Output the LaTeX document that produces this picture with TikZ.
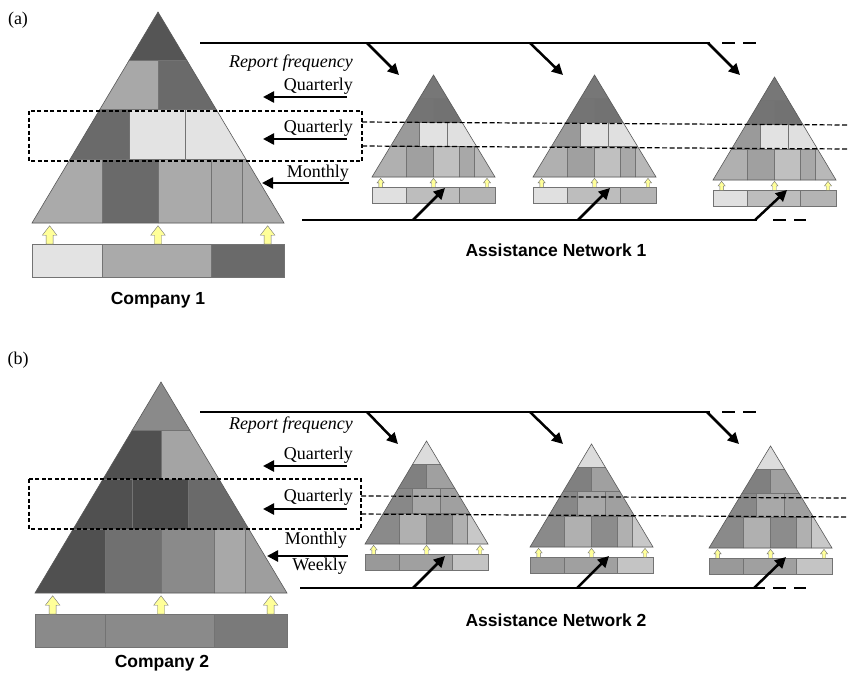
\documentclass[tikz,border=0pt]{standalone}
\usepackage{fontspec}
\setmainfont{Liberation Serif}
\setsansfont{Liberation Sans}
\usetikzlibrary{arrows.meta}

% cell colours: 11 layer cells + 3 bar cells
\definecolor{pa1}{HTML}{555555}\definecolor{pa2}{HTML}{A8A8A8}\definecolor{pa3}{HTML}{6A6A6A}
\definecolor{pa4}{HTML}{6A6A6A}\definecolor{pa5}{HTML}{E3E3E3}\definecolor{pa6}{HTML}{E3E3E3}
\definecolor{pa7}{HTML}{AAAAAA}\definecolor{pa8}{HTML}{6A6A6A}\definecolor{pa9}{HTML}{AAAAAA}
\definecolor{pa10}{HTML}{A8A8A8}\definecolor{pa11}{HTML}{AAAAAA}
\definecolor{pa12}{HTML}{E3E3E3}\definecolor{pa13}{HTML}{AAAAAA}\definecolor{pa14}{HTML}{6A6A6A}
\definecolor{sa1}{HTML}{777777}\definecolor{sa2}{HTML}{747474}\definecolor{sa3}{HTML}{727272}
\definecolor{sa4}{HTML}{9A9A9A}\definecolor{sa5}{HTML}{E2E2E2}\definecolor{sa6}{HTML}{E0E0E0}
\definecolor{sa7}{HTML}{B0B0B0}\definecolor{sa8}{HTML}{A0A0A0}\definecolor{sa9}{HTML}{C0C0C0}
\definecolor{sa10}{HTML}{A8A8A8}\definecolor{sa11}{HTML}{B8B8B8}
\definecolor{sa12}{HTML}{E0E0E0}\definecolor{sa13}{HTML}{BDBDBD}\definecolor{sa14}{HTML}{B4B4B4}
\definecolor{pb1}{HTML}{8A8A8A}\definecolor{pb2}{HTML}{505050}\definecolor{pb3}{HTML}{A4A4A4}
\definecolor{pb4}{HTML}{505050}\definecolor{pb5}{HTML}{4B4B4B}\definecolor{pb6}{HTML}{6A6A6A}
\definecolor{pb7}{HTML}{505050}\definecolor{pb8}{HTML}{707070}\definecolor{pb9}{HTML}{8A8A8A}
\definecolor{pb10}{HTML}{A8A8A8}\definecolor{pb11}{HTML}{9E9E9E}
\definecolor{pb12}{HTML}{8A8A8A}\definecolor{pb13}{HTML}{8A8A8A}\definecolor{pb14}{HTML}{7A7A7A}
\definecolor{sb1}{HTML}{DCDCDC}\definecolor{sb2}{HTML}{808080}\definecolor{sb3}{HTML}{A0A0A0}
\definecolor{sb4}{HTML}{888888}\definecolor{sb5}{HTML}{A8A8A8}\definecolor{sb6}{HTML}{A0A0A0}
\definecolor{sb7}{HTML}{8A8A8A}\definecolor{sb8}{HTML}{B0B0B0}\definecolor{sb9}{HTML}{8C8C8C}
\definecolor{sb10}{HTML}{B0B0B0}\definecolor{sb11}{HTML}{C8C8C8}
\definecolor{sb12}{HTML}{999999}\definecolor{sb13}{HTML}{A0A0A0}\definecolor{sb14}{HTML}{C4C4C4}
\definecolor{feedyellow}{HTML}{FFFF99}

% #1 colour prefix, #2 left x, #3 apex y, #4 base width, #5 height
\newcommand{\pyramid}[5]{%
  \begin{scope}[shift={(#2,#3)}, xscale=#4, yscale=#5]
    \begin{scope}
      \clip (0,1) -- (.5,0) -- (1,1) -- cycle;
      \foreach \xa/\xb/\ya/\yb/\k in {0/1/0/.23/1, 0/.5/.23/.46/2, .5/1/.23/.46/3,
          0/.385/.46/.7/4, .385/.61/.46/.7/5, .61/1/.46/.7/6,
          0/.28/.7/1/7, .28/.5/.7/1/8, .5/.71/.7/1/9, .71/.835/.7/1/10, .835/1/.7/1/11}
        \filldraw[cell, fill=#1\k] (\xa,\ya) rectangle (\xb,\yb);
    \end{scope}
    \draw[outline] (0,1) -- (.5,0) -- (1,1) -- cycle;
    \foreach \xa/\xb/\k in {0/.28/12, .28/.71/13, .71/1/14}
      \filldraw[cell, fill=#1\k] (\xa,1.1) rectangle (\xb,1.255);
    \foreach \x in {.07,.5,.935}
      \filldraw[feed] (\x-.014,1.1) -- (\x-.014,1.058) -- (\x-.029,1.058) -- (\x,1.013)
        -- (\x+.029,1.058) -- (\x+.014,1.058) -- (\x+.014,1.1) -- cycle;
  \end{scope}}

\begin{document}
\begin{tikzpicture}[
    x=1pt, y=-1pt,
    cell/.style={draw=black!55, line width=.5pt},
    outline/.style={draw=black!65, line width=.6pt},
    feed/.style={fill=feedyellow, draw=black!55, line width=.4pt},
    lab/.style={font=\fontsize{18}{20}\selectfont, anchor=east, inner sep=0pt},
    panel/.style={font=\fontsize{18}{20}\selectfont, inner sep=0pt},
    title/.style={font=\sffamily\bfseries\fontsize{17.5}{20}\selectfont, inner sep=0pt},
    freq/.style={-{Triangle[length=11pt,width=11pt]}, line width=2.5pt},
    flow/.style={line width=2.3pt},
    tail/.style={line width=2.3pt, dash pattern=on 13pt off 8pt},
    dbox/.style={line width=1.2pt, dash pattern=on 4pt off 2.5pt},
    dline/.style={line width=1.2pt, dash pattern=on 5pt off 2.5pt}
]
\useasboundingbox (0,0) rectangle (848,672);

% ---------- (a) ----------
\node[panel] (labA) at (18,20) {(a)};
\pyramid{pa}{32}{12}{252}{211}
\pyramid{sa}{372}{75}{123}{102}
\pyramid{sa}{533}{75}{123}{102}
\pyramid{sa}{713}{77}{123}{103}
\node[title] (comp1) at (158,300) {Company 1};
\node[title] (net1) at (556,250) {Assistance Network 1};

\draw[dbox] (29,111) rectangle (362,161);
\coordinate (da1) at (362,122); \coordinate (da1e) at (848,125);
\coordinate (da2) at (362,146); \coordinate (da2e) at (848,149);
\draw[dline] (da1) -- (da1e);
\draw[dline] (da2) -- (da2e);

\node[lab] (rfA) at (353,63) {\textit{Report frequency}};
\node[lab] (qA1) at (353,86) {Quarterly};
\node[lab] (qA2) at (353,128) {Quarterly};
\node[lab] (mA) at (349,173) {Monthly};
\foreach \n/\xa/\ya/\xb/\yb in {fA1/347/97/263/97, fA2/347/139/263/139, fA3/349/183/262/183,
    dA1/367/43/399/75, dA2/530/43/563/75, dA3/708/43/740/75,
    uA1/413/220/445/188, uA2/578/220/610/188, uA3/755/220/787/190} {
  \coordinate (\n s) at (\xa,\ya); \coordinate (\n e) at (\xb,\yb);
  \draw[freq] (\n s) -- (\n e);
}
\coordinate (topA) at (200,43); \coordinate (topAe) at (710,43);
\coordinate (topAt) at (722,43); \coordinate (topAte) at (760,43);
\coordinate (botA) at (302,220); \coordinate (botAe) at (757,220);
\coordinate (botAt) at (773,220); \coordinate (botAte) at (806,220);
\draw[flow] (topA) -- (topAe); \draw[tail] (topAt) -- (topAte);
\draw[flow] (botA) -- (botAe); \draw[tail] (botAt) -- (botAte);

% ---------- (b) ----------
\node[panel] (labB) at (18,360) {(b)};
\pyramid{pb}{35}{382}{252}{211}
\pyramid{sb}{365}{441}{123}{103}
\pyramid{sb}{530}{444}{123}{103}
\pyramid{sb}{709}{446}{123}{102}
\node[title] (comp2) at (162,663) {Company 2};
\node[title] (net2) at (556,620) {Assistance Network 2};

\draw[dbox] (29,479) rectangle (361,529);
\coordinate (db1) at (361,496); \coordinate (db1e) at (848,498);
\coordinate (db2) at (361,514); \coordinate (db2e) at (848,517);
\draw[dline] (db1) -- (db1e);
\draw[dline] (db2) -- (db2e);

\node[lab] (rfB) at (353,425) {\textit{Report frequency}};
\node[lab] (qB1) at (353,455) {Quarterly};
\node[lab] (qB2) at (353,497) {Quarterly};
\node[lab] (mB) at (347,540) {Monthly};
\node[lab] (wB) at (347,566) {Weekly};
\foreach \n/\xa/\ya/\xb/\yb in {fB1/347/466/263/466, fB2/347/509/263/509, fB3/348/556/267/556,
    dB1/367/412/398/444, dB2/530/412/563/444, dB3/707/412/739/444,
    uB1/413/588/445/556, uB2/577/588/609/556, uB3/754/588/786/557} {
  \coordinate (\n s) at (\xa,\ya); \coordinate (\n e) at (\xb,\yb);
  \draw[freq] (\n s) -- (\n e);
}
\coordinate (topB) at (200,412); \coordinate (topBe) at (710,412);
\coordinate (topBt) at (722,412); \coordinate (topBte) at (760,412);
\coordinate (botB) at (300,588); \coordinate (botBe) at (765,588);
\coordinate (botBt) at (773,588); \coordinate (botBte) at (806,588);
\draw[flow] (topB) -- (topBe); \draw[tail] (topBt) -- (topBte);
\draw[flow] (botB) -- (botBe); \draw[tail] (botBt) -- (botBte);
\end{tikzpicture}
\end{document}
